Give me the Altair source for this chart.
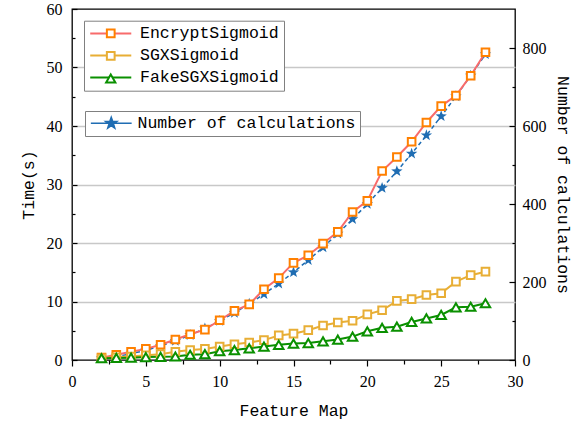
import altair as alt
import pandas as pd

feature_map = list(range(2, 29))
encrypt_sigmoid = [0.4, 0.9, 1.4, 1.9, 2.6, 3.5, 4.4, 5.2, 6.8, 8.4, 9.5, 12.1, 14.0, 16.6,
                   17.9, 19.9, 21.9, 25.3, 27.2, 32.3, 34.7, 37.3, 40.6, 43.4, 45.2, 48.6, 52.6]
sgx_sigmoid = [0.3, 0.45, 0.6, 0.8, 1.0, 1.4, 1.7, 1.9, 2.3, 2.7, 3.0, 3.4, 4.2, 4.5,
               5.1, 5.9, 6.4, 6.7, 7.8, 8.5, 10.1, 10.4, 11.1, 11.4, 13.4, 14.5, 15.1]
fake_sgx_sigmoid = [0.3, 0.35, 0.4, 0.5, 0.55, 0.6, 0.9, 1.0, 1.5, 1.7, 2.0, 2.3, 2.6, 2.8,
                    2.9, 3.2, 3.5, 4.0, 4.9, 5.5, 5.7, 6.5, 7.1, 7.7, 9.0, 9.1, 9.7]
num_calculations = [4, 9, 16, 25, 36, 49, 64, 81, 100, 121, 144, 169, 196, 225,
                    256, 289, 324, 361, 400, 441, 484, 529, 576, 625, 676, 729, 784]

series_names = ["EncryptSigmoid", "SGXSigmoid", "FakeSGXSigmoid"]
series_values = [encrypt_sigmoid, sgx_sigmoid, fake_sgx_sigmoid]
calc_name = "Number of calculations"

frames = []
for name, vals in zip(series_names, series_values):
    frames.append(pd.DataFrame({"x": feature_map, "time": vals, "series": [name] * len(vals)}))
time_df = pd.concat(frames, ignore_index=True)
calc_df = pd.DataFrame({"x": feature_map, "calc": num_calculations,
                        "calc_label": [calc_name] * len(feature_map)})

W, H = 443, 351
LINE_COLORS = ["#F86B6B", "#E8AE35", "#0A9000"]
MARK_COLORS = ["#FF8000", "#E8AE35", "#0A9000"]
MARK_SHAPES = ["square", "square", "triangle-up"]
MARK_SIZES = [58, 58, 90]
BLUE = "#1F6DB3"
STAR = ("M0,-1L0.235,-0.324L0.951,-0.309L0.38,0.124L0.588,0.809L0,0.4"
        "L-0.588,0.809L-0.38,0.124L-0.951,-0.309L-0.235,-0.324Z")

LEG_FONT = "Liberation Mono"
LEG_SIZE = 16.5
ROW_PAD = 5
ROW_STEP = 22.5
LEG_PAD = 4.5
LEG_X, LEG_Y = 12, 11.7

x_axis = alt.Axis(
    title="Feature Map",
    values=[i * 2.5 for i in range(13)],
    labelExpr="datum.value % 5 === 0 ? format(datum.value, 'd') : ''",
    tickSize=alt.condition("datum.value % 5 === 0", alt.value(6), alt.value(4)),
    grid=False, domain=False, labelFlush=False, labelPadding=7, titlePadding=13,
    tickColor="black", tickWidth=1.2,
)
x_enc = alt.X("x:Q", scale=alt.Scale(domain=[0, 30], nice=False), axis=x_axis)

time_scale = alt.Scale(domain=[0, 60], nice=False)
calc_scale = alt.Scale(domain=[0, 900], nice=False)

left_axis = alt.Axis(
    title="Time(s)", values=[0, 10, 20, 30, 40, 50, 60], ticks=False, domain=False,
    grid=True, gridColor="#c8c8c8", gridWidth=1.3, labelFlush=False,
    gridOpacity=alt.condition("datum.value > 0 && datum.value < 60", alt.value(1), alt.value(0)),
    labelPadding=10, titlePadding=10,
)
right_axis = alt.Axis(
    title="Number of calculations", orient="right", values=[0, 200, 400, 600, 800],
    ticks=False, domain=False, grid=False, labelFlush=False, labelPadding=7, titlePadding=8,
)

sym_size = 60
legend_lines = alt.Legend(
    orient="none", legendX=LEG_X, legendY=LEG_Y, title=None,
    symbolType="M-5.3,0H5.3", symbolSize=sym_size, symbolStrokeWidth=2,
    symbolOffset=14, labelOffset=21,
    labelFont=LEG_FONT, labelFontSize=LEG_SIZE, labelColor="black", labelLimit=400,
    strokeColor="#808080", fillColor="white", padding=LEG_PAD, rowPadding=ROW_PAD,
)

time_lines = alt.Chart(time_df).mark_line(strokeWidth=2).encode(
    x=x_enc,
    y=alt.Y("time:Q", scale=time_scale, axis=left_axis),
    color=alt.Color("series:N", sort=series_names,
                    scale=alt.Scale(range=LINE_COLORS), legend=legend_lines),
)

point_layers = []
for i, (name, vals) in enumerate(zip(series_names, series_values)):
    df_i = pd.DataFrame({"x": feature_map, "time": vals, "series": [name] * len(vals)})
    leg_i = alt.Legend(
        orient="none", legendX=LEG_X, legendY=LEG_Y + i * ROW_STEP, title=None,
        symbolType=MARK_SHAPES[i], symbolSize=sym_size if i < 2 else 85, symbolStrokeWidth=2,
        symbolFillColor="white", symbolOffset=14, labelOffset=21,
        labelFont=LEG_FONT, labelFontSize=LEG_SIZE, labelColor="rgba(0,0,0,0)",
        labelExpr="' '", padding=LEG_PAD, rowPadding=ROW_PAD,
    )
    point_layers.append(
        alt.Chart(df_i).mark_point(filled=True, fill="white", shape=MARK_SHAPES[i],
                                   size=MARK_SIZES[i], strokeWidth=2, opacity=1).encode(
            x=x_enc,
            y=alt.Y("time:Q", scale=time_scale, axis=left_axis),
            stroke=alt.Stroke("series:N", scale=alt.Scale(range=[MARK_COLORS[i]]), legend=leg_i),
        )
    )
time_points = alt.layer(*point_layers).resolve_scale(stroke="independent")
time_group = alt.layer(time_lines, time_points).resolve_scale(stroke="independent")

legend_calc = alt.Legend(
    orient="none", legendX=13, legendY=102, title=None,
    symbolType="M-3.4,0H3.4M" + STAR[1:], symbolSize=144, symbolStrokeWidth=1.5,
    symbolStrokeColor=BLUE, symbolOffset=14, labelOffset=18,
    labelFont=LEG_FONT, labelFontSize=LEG_SIZE, labelColor="black", labelLimit=400,
    strokeColor="#808080", fillColor="white", padding=4,
)
calc_line = alt.Chart(calc_df).mark_line(color=BLUE, strokeWidth=1.5, strokeDash=[4, 3]).encode(
    x=x_enc,
    y=alt.Y("calc:Q", scale=calc_scale, axis=right_axis),
)
calc_points = alt.Chart(calc_df).mark_point(filled=True, shape=STAR, size=144, opacity=1).encode(
    x=x_enc,
    y=alt.Y("calc:Q", scale=calc_scale, axis=right_axis),
    fill=alt.Fill("calc_label:N", scale=alt.Scale(range=[BLUE]), legend=legend_calc),
)
calc_group = alt.layer(calc_line, calc_points)

# inward tick marks for both vertical axes
ticks_time = alt.Chart(time_df).mark_point(opacity=0).encode(
    x=x_enc,
    y=alt.Y("time:Q", scale=time_scale, axis=alt.Axis(
        orient="right", offset=-W, title=None, labels=False, domain=False, grid=False,
        values=list(range(0, 61, 5)), tickColor="black", tickWidth=1.2,
        tickSize=alt.condition("datum.value % 10 === 0", alt.value(5), alt.value(3)))),
)
ticks_calc = alt.Chart(calc_df).mark_point(opacity=0).encode(
    x=x_enc,
    y=alt.Y("calc:Q", scale=calc_scale, axis=alt.Axis(
        orient="left", offset=-W, title=None, labels=False, domain=False, grid=False,
        values=list(range(0, 801, 100)), tickColor="black", tickWidth=1.2,
        tickSize=alt.condition("datum.value % 200 === 0", alt.value(6), alt.value(3)))),
)

chart = alt.layer(calc_group, time_group, ticks_time, ticks_calc).resolve_scale(
    y="independent", stroke="independent"
).properties(
    width=W, height=H,
    autosize=alt.AutoSizeParams(type="none"),
    padding={"left": 72, "top": 9, "right": 65, "bottom": 67},
).configure_view(
    stroke="black", strokeWidth=1.3
).configure_axis(
    labelFont="Liberation Serif", labelFontSize=16, labelColor="black",
    titleFont="Liberation Mono", titleFontSize=16.5, titleFontWeight="normal", titleColor="black",
)

chart.save("out.html", embed_options={"renderer": "svg", "actions": False})
